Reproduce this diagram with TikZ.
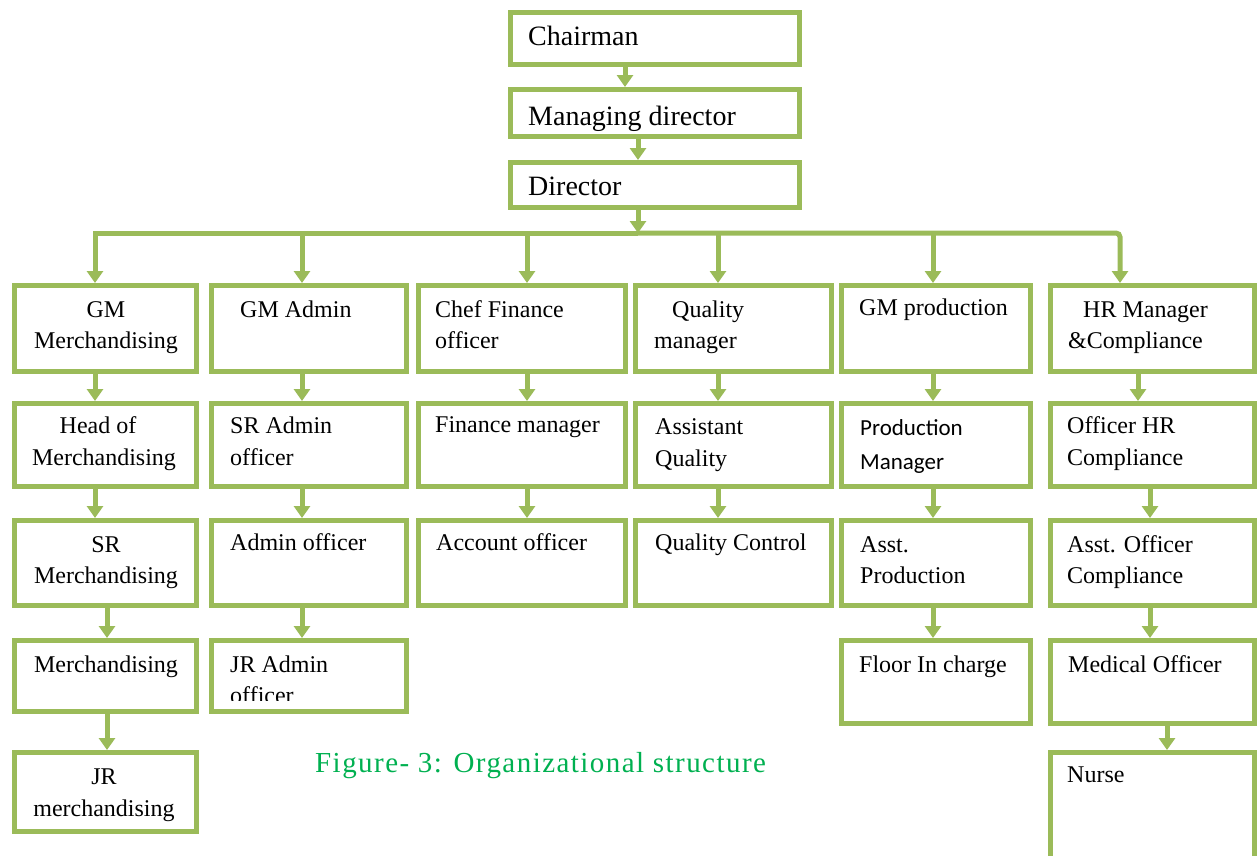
\documentclass[tikz,border=0pt]{standalone}
\usepackage{fontspec}
\setmainfont{Liberation Serif}
\newfontfamily\calfont{Carlito}
\newfontfamily\capfont[LetterSpace=5]{Liberation Serif}
\usetikzlibrary{arrows.meta}
\definecolor{boxgreen}{RGB}{155,187,89}
\definecolor{capgreen}{RGB}{0,176,80}

\begin{document}
\begin{tikzpicture}[x=1pt, y=-1pt,
  box/.style={draw=boxgreen, line width=5pt, fill=white},
  topbox/.style={box, minimum width=289pt},
  txt/.style={inner sep=0pt, anchor=base west, align=left,
              font=\fontsize{24}{31.5}\selectfont},
  toptxt/.style={txt, font=\fontsize{28}{34}\selectfont},
  midtxt/.style={txt, anchor=base, align=center},
  arr/.style={boxgreen, line width=5pt, -{Triangle[width=16pt,length=12pt]}}
]
\useasboundingbox (0,0) rectangle (1257,855);

% Top of the chart
\node[topbox, minimum height=52pt] (chair) at (655,38.5) {};
\node[topbox, minimum height=47pt] (md) at (655,113) {};
\node[topbox, minimum height=45pt] (dir) at (655,185) {};
\node[toptxt] (chair-t) at (528,45) {Chairman};
\node[toptxt] (md-t) at (528,125) {Managing director};
\node[toptxt] (dir-t) at (528,195) {Director};

% Merchandising (two-line texts sit on their last baseline)
\node[box, minimum width=182pt, minimum height=86pt] (gmm) at (105.5,328.5) {};
\node[box, minimum width=182pt, minimum height=83pt] (hom) at (105.5,445) {};
\node[box, minimum width=182pt, minimum height=85pt] (srm) at (105.5,563) {};
\node[box, minimum width=182pt, minimum height=71pt] (mer) at (105.5,676) {};
\node[box, minimum width=182pt, minimum height=79pt] (jrm) at (105.5,792) {};
\node[midtxt] (gmm-t) at (106,348.5) {GM\\Merchandising};
\node[midtxt] (hom-t) at (104,465) {\hspace*{-12pt}Head of\\Merchandising};
\node[midtxt] (srm-t) at (106,583.5) {SR\\Merchandising};
\node[midtxt] (mer-t) at (106,672) {Merchandising};
\node[midtxt] (jrm-t) at (104,816) {JR\\merchandising};

% Admin
\node[box, minimum width=195pt, minimum height=86pt] (gma) at (309,328.5) {};
\node[box, minimum width=195pt, minimum height=83pt] (sra) at (309,445) {};
\node[box, minimum width=195pt, minimum height=85pt] (adm) at (309,563) {};
\node[box, minimum width=195pt, minimum height=71pt] (jra) at (309,676) {};
\node[txt] (gma-t) at (240,317) {GM Admin};
\node[txt] (sra-t) at (230,465) {SR Admin\\officer};
\node[txt] (adm-t) at (230,550) {Admin officer};
\begin{scope}
  \clip (214,643) rectangle (404,700);
  \node[txt] (jra-t) at (230,703.5) {JR Admin\\officer};
\end{scope}

% Finance
\node[box, minimum width=207pt, minimum height=86pt] (cfo) at (522,328.5) {};
\node[box, minimum width=207pt, minimum height=83pt] (fim) at (522,445) {};
\node[box, minimum width=207pt, minimum height=85pt] (aco) at (522,563) {};
\node[txt] (cfo-t) at (435,348.5) {Chef Finance\\officer};
\node[txt] (fim-t) at (435,432) {Finance manager};
\node[txt] (aco-t) at (436,550) {Account officer};

% Quality
\node[box, minimum width=196pt, minimum height=86pt] (qm) at (733.5,328.5) {};
\node[box, minimum width=196pt, minimum height=83pt] (aq) at (733.5,445) {};
\node[box, minimum width=196pt, minimum height=85pt] (qc) at (733.5,563) {};
\node[txt] (qm-t) at (654,348.5) {\hspace*{18pt}Quality\\manager};
\node[txt] (aq-t) at (655,466) {Assistant\\Quality};
\node[txt] (qc-t) at (655,550) {Quality Control};

% Production
\node[box, minimum width=189pt, minimum height=86pt] (gmp) at (936,328.5) {};
\node[box, minimum width=189pt, minimum height=83pt] (pm) at (936,445) {};
\node[box, minimum width=189pt, minimum height=85pt] (ap) at (936,563) {};
\node[box, minimum width=189pt, minimum height=83pt] (fic) at (936,682) {};
\node[txt] (gmp-t) at (859,315) {GM production};
\node[txt, font=\calfont\fontsize{23}{34}\selectfont] (pm-t) at (860,469) {Production\\Manager};
\node[txt] (ap-t) at (860,583.5) {Asst.\\Production};
\node[txt] (fic-t) at (859,672) {Floor In charge};

% HR
\node[box, minimum width=204pt, minimum height=86pt] (hrm) at (1152.5,328.5) {};
\node[box, minimum width=204pt, minimum height=83pt] (ohr) at (1152.5,445) {};
\node[box, minimum width=204pt, minimum height=85pt] (aoc) at (1152.5,563) {};
\node[box, minimum width=204pt, minimum height=83pt] (mo) at (1152.5,682) {};
\node[box, minimum width=204pt, minimum height=127pt] (nur) at (1152.5,816) {};
\node[txt] (hrm-t) at (1068,348.5) {\hspace*{15pt}HR Manager\\\&Compliance};
\node[txt] (ohr-t) at (1067,465) {Officer HR\\Compliance};
\node[txt] (aoc-t) at (1067,583.5) {Asst. Officer\\Compliance};
\node[txt] (mo-t) at (1068,672) {Medical Officer};
\node[txt] (nur-t) at (1067,782) {Nurse};

% Caption
\node[inner sep=0pt, anchor=base west, text=capgreen,
      font=\capfont\fontsize{29}{34}\selectfont] (cap) at (315,772)
      {Figure- 3: Organizational structure};

% Arrows
\coordinate (bus) at (638,233);
\draw[arr] ([xshift=-30pt]chair.south) -- ([xshift=-30pt]md.north);
\draw[arr] ([xshift=-17pt]md.south) -- ([xshift=-17pt]dir.north);
\draw[arr] ([xshift=-17pt]dir.south) -- (bus);
\draw[arr] (bus) -| ([xshift=-10.5pt]gmm.north);
\draw[arr, rounded corners=4pt] (bus) -| ([xshift=-32.5pt]hrm.north);
\draw[arr] ([xshift=-7pt]gma.north |- bus) -- ([xshift=-7pt]gma.north);
\draw[arr] ([xshift=5pt]cfo.north |- bus) -- ([xshift=5pt]cfo.north);
\draw[arr] ([xshift=-15.5pt]qm.north |- bus) -- ([xshift=-15.5pt]qm.north);
\draw[arr] ([xshift=-3pt]gmp.north |- bus) -- ([xshift=-3pt]gmp.north);

\draw[arr] ([xshift=-10.5pt]gmm.south) -- ([xshift=-10.5pt]hom.north);
\draw[arr] ([xshift=-10.5pt]hom.south) -- ([xshift=-10.5pt]srm.north);
\draw[arr] ([xshift=1.5pt]srm.south) -- ([xshift=1.5pt]mer.north);
\draw[arr] ([xshift=1.5pt]mer.south) -- ([xshift=1.5pt]jrm.north);

\draw[arr] ([xshift=-7pt]gma.south) -- ([xshift=-7pt]sra.north);
\draw[arr] ([xshift=-7pt]sra.south) -- ([xshift=-7pt]adm.north);
\draw[arr] ([xshift=-7pt]adm.south) -- ([xshift=-7pt]jra.north);

\draw[arr] ([xshift=5pt]cfo.south) -- ([xshift=5pt]fim.north);
\draw[arr] ([xshift=5pt]fim.south) -- ([xshift=5pt]aco.north);

\draw[arr] ([xshift=-15.5pt]qm.south) -- ([xshift=-15.5pt]aq.north);
\draw[arr] ([xshift=-15.5pt]aq.south) -- ([xshift=-15.5pt]qc.north);

\draw[arr] ([xshift=-3pt]gmp.south) -- ([xshift=-3pt]pm.north);
\draw[arr] ([xshift=-3pt]pm.south) -- ([xshift=-3pt]ap.north);
\draw[arr] ([xshift=-3pt]ap.south) -- ([xshift=-3pt]fic.north);

\draw[arr] ([xshift=-14.5pt]hrm.south) -- ([xshift=-14.5pt]ohr.north);
\draw[arr] ([xshift=-2.5pt]ohr.south) -- ([xshift=-2.5pt]aoc.north);
\draw[arr] ([xshift=-2.5pt]aoc.south) -- ([xshift=-2.5pt]mo.north);
\draw[arr] ([xshift=14.5pt]mo.south) -- ([xshift=14.5pt]nur.north);
\end{tikzpicture}
\end{document}
